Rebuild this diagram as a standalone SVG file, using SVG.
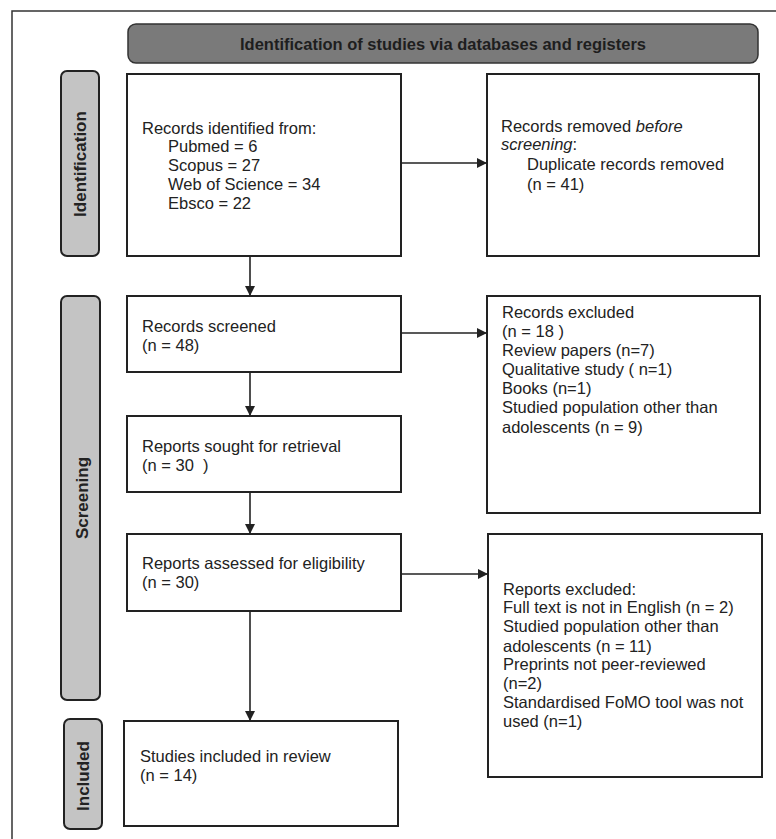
<svg xmlns="http://www.w3.org/2000/svg" width="776" height="839" viewBox="0 0 776 839">
<style>
.box{fill:#fff;stroke:#222;stroke-width:2}
.side{fill:#c4c4c4;stroke:#222;stroke-width:2}
.t{font-family:"Liberation Sans",Arial,sans-serif;font-size:16.5px;fill:#222}
.st{font-family:"Liberation Sans",Arial,sans-serif;font-size:17px;font-weight:bold;fill:#222}
.c{stroke:#222;stroke-width:1.6;fill:none}
</style>
<defs>
<marker id="ah" viewBox="0 0 10 10" refX="10" refY="5" markerWidth="10" markerHeight="10" markerUnits="userSpaceOnUse" orient="auto">
<path d="M0,0 L10,5 L0,10 z" fill="#222"/>
</marker>
</defs>
<rect width="776" height="839" fill="#fff"/>
<path d="M12,839 L12,11 L776,11" fill="none" stroke="#333" stroke-width="1.5"/>
<g id="header">
<rect x="128" y="24" width="630" height="39" rx="8" fill="#7a7a7a" stroke="#333" stroke-width="1.5"/>
<text x="443" y="50" text-anchor="middle" font-family="Liberation Sans,Arial,sans-serif" font-size="17" font-weight="bold" fill="#1e1e1e" textLength="406" lengthAdjust="spacingAndGlyphs">Identification of studies via databases and registers</text>
</g>
<g id="side-identification">
<rect class="side" x="61" y="71" width="38" height="185" rx="6"/>
<text class="st" transform="translate(86,164) rotate(-90)" text-anchor="middle">Identification</text>
</g>
<g id="side-screening">
<rect class="side" x="61" y="296" width="39" height="404" rx="6"/>
<text class="st" transform="translate(88,498) rotate(-90)" text-anchor="middle">Screening</text>
</g>
<g id="side-included">
<rect class="side" x="64" y="719" width="38" height="110" rx="6"/>
<text class="st" transform="translate(89,776) rotate(-90)" text-anchor="middle">Included</text>
</g>
<g id="records-identified">
<rect class="box" x="127" y="74" width="274" height="182"/>
<text class="t" x="142" y="134">Records identified from:</text>
<text class="t" x="168" y="152">Pubmed = 6</text>
<text class="t" x="168" y="171">Scopus = 27</text>
<text class="t" x="168" y="190">Web of Science = 34</text>
<text class="t" x="168" y="209">Ebsco = 22</text>
</g>
<g id="records-removed">
<rect class="box" x="487" y="74" width="272" height="182"/>
<text class="t" x="501" y="132">Records removed <tspan font-style="italic">before</tspan></text>
<text class="t" x="501" y="150"><tspan font-style="italic">screening</tspan>:</text>
<text class="t" x="527" y="170">Duplicate records removed</text>
<text class="t" x="527" y="190">(n = 41)</text>
</g>
<g id="records-screened">
<rect class="box" x="127" y="296" width="274" height="76"/>
<text class="t" x="142" y="332">Records screened</text>
<text class="t" x="142" y="351">(n = 48)</text>
</g>
<g id="records-excluded">
<rect class="box" x="487" y="296" width="273" height="217"/>
<text class="t" x="502" y="318">Records excluded</text>
<text class="t" x="502" y="337">(n = 18 )</text>
<text class="t" x="502" y="356">Review papers (n=7)</text>
<text class="t" x="502" y="375">Qualitative study ( n=1)</text>
<text class="t" x="502" y="394">Books (n=1)</text>
<text class="t" x="502" y="413">Studied population other than</text>
<text class="t" x="502" y="433">adolescents (n = 9)</text>
</g>
<g id="reports-sought">
<rect class="box" x="127" y="416" width="274" height="76"/>
<text class="t" x="142" y="452">Reports sought for retrieval</text>
<text class="t" x="142" y="471" xml:space="preserve">(n = 30  )</text>
</g>
<g id="reports-assessed">
<rect class="box" x="127" y="534" width="274" height="77"/>
<text class="t" x="142" y="569">Reports assessed for eligibility</text>
<text class="t" x="142" y="588">(n = 30)</text>
</g>
<g id="reports-excluded">
<rect class="box" x="488" y="534" width="274" height="243"/>
<text class="t" x="503" y="595">Reports excluded:</text>
<text class="t" x="503" y="613">Full text is not in English (n = 2)</text>
<text class="t" x="503" y="632">Studied population other than</text>
<text class="t" x="503" y="652">adolescents (n = 11)</text>
<text class="t" x="503" y="670">Preprints not peer-reviewed</text>
<text class="t" x="503" y="689">(n=2)</text>
<text class="t" x="503" y="708">Standardised FoMO tool was not</text>
<text class="t" x="503" y="727">used (n=1)</text>
</g>
<g id="studies-included">
<rect class="box" x="124" y="721" width="274" height="105"/>
<text class="t" x="140" y="762">Studies included in review</text>
<text class="t" x="140" y="781">(n = 14)</text>
</g>
<g id="connectors">
<line class="c" x1="401" y1="163" x2="487" y2="163" marker-end="url(#ah)"/>
<line class="c" x1="250" y1="256" x2="250" y2="296" marker-end="url(#ah)"/>
<line class="c" x1="401" y1="333" x2="487" y2="333" marker-end="url(#ah)"/>
<line class="c" x1="250" y1="372" x2="250" y2="416" marker-end="url(#ah)"/>
<line class="c" x1="250" y1="492" x2="250" y2="534" marker-end="url(#ah)"/>
<line class="c" x1="401" y1="574" x2="488" y2="574" marker-end="url(#ah)"/>
<line class="c" x1="250" y1="611" x2="250" y2="721" marker-end="url(#ah)"/>
</g>
</svg>
